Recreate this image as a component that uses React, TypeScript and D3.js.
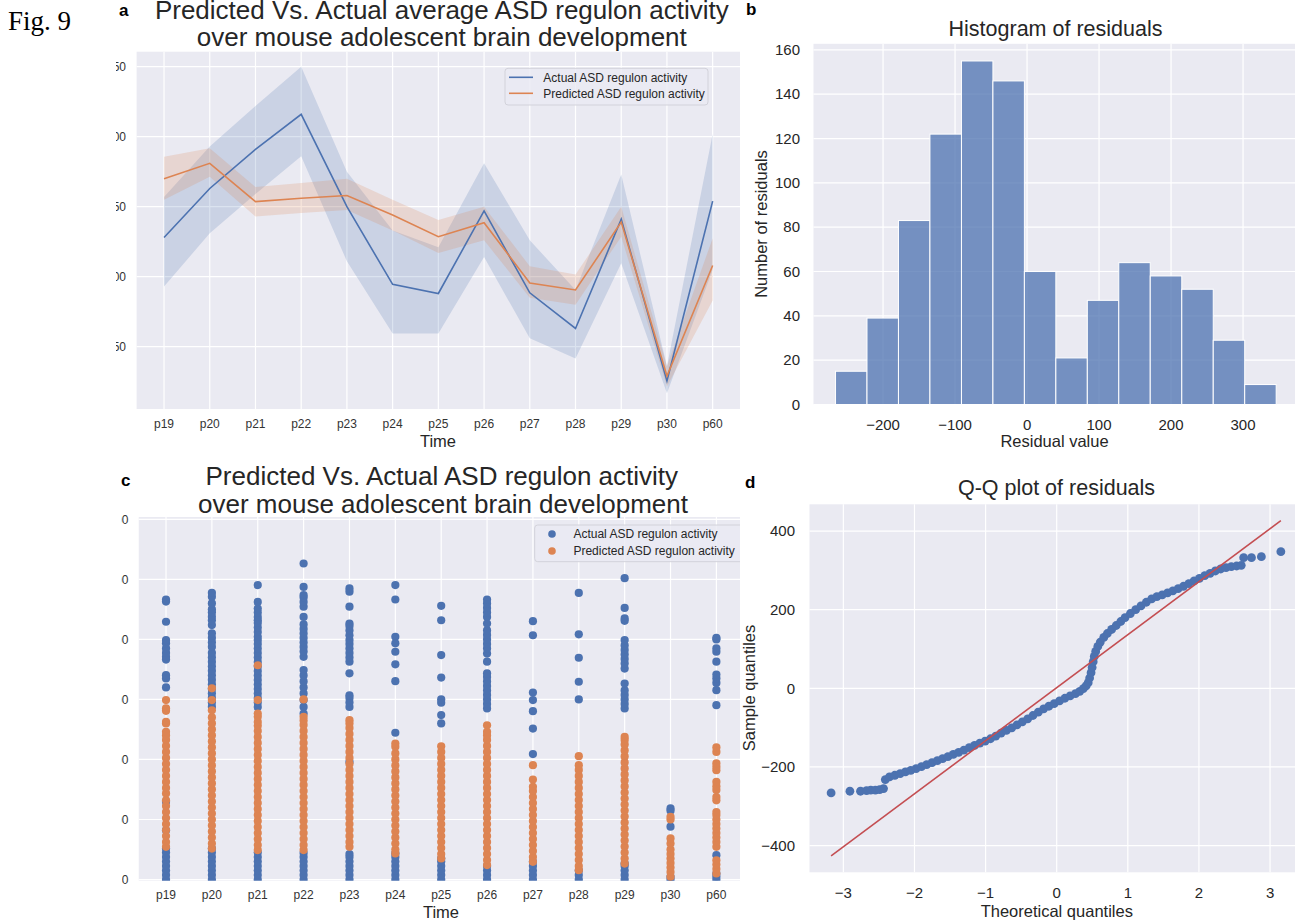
import React from 'react';
import * as d3 from 'd3';

// ---------- shared categories ----------
const timepoints = ['p19', 'p20', 'p21', 'p22', 'p23', 'p24', 'p25', 'p26', 'p27', 'p28', 'p29', 'p30', 'p60'];

// ---------- panel a: average regulon activity with 95% CI ----------
const actualMean = [228, 263, 291, 316, 250, 194.5, 188, 247, 188.5, 163, 241, 125.5, 254];
const actualLow = [193, 231, 259, 286, 211, 159.5, 159.5, 214, 156, 141.5, 209.6, 116.7, 205];
const actualHigh = [257, 293, 322, 350, 275, 233, 221, 281, 226, 190.5, 273, 136, 302];
const predictedMean = [270, 281, 253.6, 256, 258, 244, 228.6, 238.6, 195.5, 190.5, 239, 129, 208];
const predictedLow = [255, 271.4, 243, 245.5, 247.6, 233, 217, 226, 185, 180, 228.6, 121.6, 183];
const predictedHigh = [285.7, 291.7, 264, 267, 270, 255, 240.5, 250, 207.5, 201.5, 250, 136, 227.4];
const activityTicksA = [150, 200, 250, 300, 350];

// ---------- panel b: histogram of residuals ----------
const residualBinEdges = [-266, -222.3, -178.6, -134.9, -91.1, -47.4, -3.7, 40, 83.7, 127.4, 171.1, 214.9, 258.6, 302.3, 346];
const residualCounts = [15, 39, 83, 122, 155, 146, 60, 21, 47, 64, 58, 52, 29, 9];
const residualTicks = [-200, -100, 0, 100, 200, 300];
const countTicks = [0, 20, 40, 60, 80, 100, 120, 140, 160];

// ---------- panel c: per-cell activity by timepoint ----------
const actualByDay: number[][] = [
  [0, 15, 30, 45, 60, 75, 90, 103, 164, 259, 640, 670, 681, 733, 742, 755, 770, 787, 798, 859, 926, 933],
  [0, 15, 30, 45, 60, 75, 90, 103, 575, 590, 605, 620, 635, 650, 665, 680, 695, 710, 725, 740, 755, 775, 790, 805, 820, 848, 864, 876, 890, 900, 920, 942, 955],
  [0, 15, 30, 45, 60, 75, 90, 575, 590, 605, 620, 635, 650, 665, 680, 695, 710, 725, 740, 755, 770, 785, 798, 809, 825, 840, 855, 864, 875, 890, 903, 925, 981],
  [0, 15, 30, 45, 60, 75, 88, 553, 575, 598, 620, 640, 660, 680, 698, 742, 760, 775, 790, 805, 820, 835, 850, 875, 909, 925, 940, 948, 975, 1053],
  [0, 15, 30, 45, 60, 75, 85, 392, 575, 590, 605, 614, 687, 726, 740, 755, 770, 785, 798, 814, 830, 845, 853, 909, 959, 970],
  [0, 15, 30, 45, 60, 75, 87, 489, 661, 717, 759, 787, 809, 933, 981],
  [0, 15, 30, 45, 60, 70, 520, 548, 589, 600, 673, 748, 864, 912],
  [0, 15, 30, 45, 570, 585, 600, 615, 630, 645, 660, 675, 687, 726, 753, 770, 785, 800, 815, 830, 853, 875, 890, 905, 920, 933],
  [0, 15, 30, 45, 59, 418, 503, 561, 598, 623, 814, 861],
  [0, 15, 30, 600, 659, 739, 817, 955],
  [0, 15, 30, 45, 53, 570, 585, 600, 615, 630, 653, 703, 720, 735, 750, 765, 780, 798, 862, 870, 905, 1004],
  [0, 9, 176, 229, 237],
  [0, 10, 20, 81, 581, 631, 655, 670, 683, 726, 759, 770, 800, 805],
];
const predictedByDay: number[][] = [
  [109, 125, 145, 165, 185, 205, 225, 245, 264, 287, 305, 325, 345, 365, 385, 405, 425, 445, 465, 480, 492, 520, 525, 562, 570, 598],
  [103, 120, 140, 160, 180, 200, 220, 240, 260, 280, 300, 320, 340, 360, 380, 400, 420, 440, 460, 480, 500, 520, 540, 564, 598, 637],
  [98, 115, 135, 155, 175, 195, 215, 235, 255, 275, 295, 315, 335, 355, 375, 395, 415, 435, 455, 475, 495, 512, 525, 542, 553, 598, 714],
  [98, 115, 135, 155, 175, 195, 215, 235, 255, 275, 295, 315, 335, 355, 375, 395, 415, 435, 455, 475, 495, 515, 530, 542, 600],
  [109, 125, 145, 165, 185, 205, 225, 245, 265, 285, 305, 325, 345, 365, 385, 405, 425, 445, 465, 485, 505, 520, 531],
  [87, 100, 120, 140, 160, 180, 200, 220, 240, 260, 280, 300, 320, 340, 360, 380, 400, 420, 442, 453],
  [70, 85, 105, 125, 145, 165, 185, 205, 225, 245, 265, 285, 305, 325, 345, 365, 385, 405, 425, 444],
  [48, 65, 85, 105, 125, 145, 165, 185, 205, 225, 245, 265, 285, 305, 325, 345, 365, 385, 405, 425, 445, 465, 480, 492, 514],
  [59, 75, 95, 115, 135, 155, 175, 195, 215, 235, 255, 275, 295, 309, 333, 381],
  [31, 45, 65, 85, 105, 125, 145, 165, 185, 205, 225, 245, 265, 285, 305, 325, 345, 365, 381, 411],
  [53, 70, 90, 110, 130, 150, 170, 190, 210, 230, 250, 270, 290, 310, 330, 350, 370, 390, 410, 430, 450, 465, 475],
  [9, 25, 40, 55, 70, 85, 100, 120, 137, 200, 209],
  [20, 35, 50, 64, 109, 125, 140, 155, 170, 185, 200, 215, 225, 264, 275, 298, 310, 325, 364, 375, 387, 425, 440],
];
const activityTicksC = [0, 200, 400, 600, 800, 1000, 1200];

// ---------- panel d: Q-Q plot of residuals ----------
const qqTheoretical = [
  -3.172, -2.908, -2.759, -2.674, -2.615, -2.55, -2.49, -2.435, -2.41, -2.351, -2.276, -2.201, -2.127, -2.052,
  -1.977, -1.902, -1.828, -1.753, -1.678, -1.604, -1.529, -1.454, -1.379, -1.305, -1.23, -1.155, -1.081, -1.006,
  -0.931, -0.857, -0.782, -0.707, -0.632, -0.558, -0.483, -0.408, -0.334, -0.259, -0.184, -0.11, -0.035, 0.04,
  0.115, 0.189, 0.264, 0.324, 0.374, 0.413, 0.443, 0.463, 0.483, 0.498, 0.513, 0.528, 0.548, 0.578, 0.613, 0.662,
  0.712, 0.772, 0.837, 0.901, 0.961, 1.036, 1.111, 1.185, 1.26, 1.335, 1.409, 1.484, 1.559, 1.633, 1.708, 1.783,
  1.858, 1.932, 2.007, 2.082, 2.157, 2.231, 2.306, 2.381, 2.455, 2.53, 2.595, 2.629, 2.739, 2.878, 3.152,
];
const qqSample = [
  -266, -261.8, -261.8, -260.1, -259.2, -259.2, -257.5, -255, -232.2, -225.4, -221.2, -217, -212.8, -208.6,
  -204.3, -199.3, -194.2, -189.1, -184.1, -179, -173.9, -168, -162.9, -157, -151.1, -145.2, -139.3, -134.2,
  -128.3, -121.6, -114, -107.2, -100.5, -92.9, -85.3, -77.7, -69.2, -60.8, -52.3, -45.6, -38.8, -32.1,
  -25.3, -19.4, -13.5, -7.6, -0.8, 5.9, 14.4, 26.2, 39.7, 53.2, 67.6, 81.1, 93.8, 106.5, 117.5, 129.3,
  139.4, 149.6, 159.7, 169.9, 180, 190.2, 200.3, 209.6, 218.9, 227.4, 233.3, 237.5, 242.6, 247.7, 253.6, 259.5,
  266.3, 273, 279.8, 286.6, 292.5, 298.4, 303.5, 306.8, 309.4, 311.1, 312.8, 332.3, 332.3, 334.9, 347.5,
];
const qqLineX = [-3.172, 3.152];
const qqLineY = [-426.4, 426.4];
const theoreticalTicks = [-3, -2, -1, 0, 1, 2, 3];
const sampleTicks = [-400, -200, 0, 200, 400];

// ---------- styling ----------
const FONT = "'Liberation Sans', Arial, Helvetica, sans-serif";
const BG = '#eaeaf2';
const BLUE = '#4c72b0';
const ORANGE = '#dd8452';
const RED = '#c44e52';
const TEXT = '#262626';
const fmt = d3.format('d');

const idx = timepoints.map((_, i) => i);

function PanelA() {
  const x = d3.scalePoint<string>().domain(timepoints).range([136.6, 740.1]).padding(0.6);
  const y = d3.scaleLinear().domain([105.5, 360.7]).range([409, 51.7]);
  const [x0, x1] = x.range();
  const [yb, yt] = y.range();
  const band = (lo: number[], hi: number[]) =>
    d3.area<number>().x((i) => x(timepoints[i])!).y0((i) => y(lo[i])).y1((i) => y(hi[i]))(idx)!;
  const line = (v: number[]) => d3.line<number>().x((i) => x(timepoints[i])!).y((i) => y(v[i]))(idx)!;
  return (
    <g>
      <defs>
        <clipPath id="clipA"><rect x={0} y={0} width={740} height={460} /></clipPath>
        <clipPath id="clipATicks"><rect x={116} y={40} width={30} height={380} /></clipPath>
      </defs>
      <g clipPath="url(#clipA)">
        <rect x={x0} y={yt} width={x1 - x0} height={yb - yt} fill={BG} />
        {activityTicksA.map((t) => (
          <line key={t} x1={x0} x2={x1} y1={y(t)} y2={y(t)} stroke="#fff" strokeWidth={1.2} />
        ))}
        {timepoints.map((t) => (
          <line key={t} x1={x(t)} x2={x(t)} y1={yt} y2={yb} stroke="#fff" strokeWidth={1.2} />
        ))}
        <path d={band(actualLow, actualHigh)} fill={BLUE} fillOpacity={0.2} />
        <path d={band(predictedLow, predictedHigh)} fill={ORANGE} fillOpacity={0.2} />
        <path d={line(actualMean)} fill="none" stroke={BLUE} strokeWidth={1.6} />
        <path d={line(predictedMean)} fill="none" stroke={ORANGE} strokeWidth={1.6} />
        {/* legend */}
        <rect x={505} y={68.3} width={203} height={36.7} rx={3} fill={BG} fillOpacity={0.8} stroke="#d2d2da" strokeWidth={1} />
        <line x1={509} x2={533} y1={77.3} y2={77.3} stroke={BLUE} strokeWidth={1.6} />
        <line x1={509} x2={533} y1={93.3} y2={93.3} stroke={ORANGE} strokeWidth={1.6} />
        <text x={543.3} y={81.5} fontSize={12} fill={TEXT} fontFamily={FONT}>Actual ASD regulon activity</text>
        <text x={543.3} y={97.5} fontSize={12} fill={TEXT} fontFamily={FONT}>Predicted ASD regulon activity</text>
      </g>
      <g clipPath="url(#clipATicks)">
        {activityTicksA.map((t) => (
          <text key={t} x={126} y={y(t) + 4.2} fontSize={12} textAnchor="end" fill="#333" fontFamily={FONT}>{fmt(t)}</text>
        ))}
      </g>
      {timepoints.map((t) => (
        <text key={t} x={x(t)} y={427.5} fontSize={12} textAnchor="middle" fill="#333" fontFamily={FONT}>{t}</text>
      ))}
      <text x={438} y={446.5} fontSize={16.5} textAnchor="middle" fill={TEXT} fontFamily={FONT}>Time</text>
      <text x={441.8} y={18.5} fontSize={26} textAnchor="middle" fill={TEXT} fontFamily={FONT}>Predicted Vs. Actual average ASD regulon activity</text>
      <text x={441.8} y={45.5} fontSize={26} textAnchor="middle" fill={TEXT} fontFamily={FONT}>over mouse adolescent brain development</text>
      <text x={119} y={15.5} fontSize={17} fontWeight="bold" fill="#000" fontFamily={FONT}>a</text>
    </g>
  );
}

function PanelB() {
  const x = d3.scaleLinear().domain([-296.6, 376.6]).range([813.5, 1298.2]);
  const y = d3.scaleLinear().domain([0, 162.75]).range([404.5, 43.8]);
  const [x0, x1] = x.range();
  const [yb, yt] = y.range();
  return (
    <g>
      <rect x={x0} y={yt} width={x1 - x0} height={yb - yt} fill={BG} />
      {countTicks.map((t) => (
        <line key={t} x1={x0} x2={x1} y1={y(t)} y2={y(t)} stroke="#fff" strokeWidth={1.2} />
      ))}
      {residualTicks.map((t) => (
        <line key={t} x1={x(t)} x2={x(t)} y1={yt} y2={yb} stroke="#fff" strokeWidth={1.2} />
      ))}
      {residualCounts.map((c, i) => (
        <rect
          key={i}
          x={x(residualBinEdges[i])}
          y={y(c)}
          width={x(residualBinEdges[i + 1]) - x(residualBinEdges[i])}
          height={y(0) - y(c)}
          fill={BLUE}
          fillOpacity={0.75}
          stroke="#fff"
          strokeWidth={1}
        />
      ))}
      {countTicks.map((t) => (
        <text key={t} x={800} y={y(t) + 5.2} fontSize={15} textAnchor="end" fill={TEXT} fontFamily={FONT}>{fmt(t)}</text>
      ))}
      {residualTicks.map((t) => (
        <text key={t} x={x(t)} y={430} fontSize={15} textAnchor="middle" fill={TEXT} fontFamily={FONT}>{fmt(t)}</text>
      ))}
      <text x={1054.5} y={447} fontSize={16.5} textAnchor="middle" fill={TEXT} fontFamily={FONT}>Residual value</text>
      <text transform="translate(767,224) rotate(-90)" fontSize={16.5} textAnchor="middle" fill={TEXT} fontFamily={FONT}>Number of residuals</text>
      <text x={1055.5} y={35.5} fontSize={21.5} textAnchor="middle" fill={TEXT} fontFamily={FONT}>Histogram of residuals</text>
      <text x={746} y={14.5} fontSize={17} fontWeight="bold" fill="#000" fontFamily={FONT}>b</text>
    </g>
  );
}

function PanelC() {
  const x = d3.scalePoint<string>().domain(timepoints).range([138.5, 743.9]).padding(0.6);
  const y = d3.scaleLinear().domain([-4, 1208]).range([880.7, 517]);
  const [x0, x1] = x.range();
  const [yb, yt] = y.range();
  return (
    <g>
      <defs>
        <clipPath id="clipC"><rect x={x0} y={yt} width={740 - x0} height={yb - yt} /></clipPath>
        <clipPath id="clipCTicks"><rect x={121.5} y={500} width={30} height={400} /></clipPath>
      </defs>
      <g clipPath="url(#clipC)">
        <rect x={x0} y={yt} width={x1 - x0} height={yb - yt} fill={BG} />
        {activityTicksC.map((t) => (
          <line key={t} x1={x0} x2={x1} y1={y(t)} y2={y(t)} stroke="#fff" strokeWidth={1.2} />
        ))}
        {timepoints.map((t) => (
          <line key={t} x1={x(t)} x2={x(t)} y1={yt} y2={yb} stroke="#fff" strokeWidth={1.2} />
        ))}
        {actualByDay.map((vals, i) =>
          vals.map((v, j) => <circle key={`a${i}-${j}`} cx={x(timepoints[i])} cy={y(v)} r={4.1} fill={BLUE} />)
        )}
        {predictedByDay.map((vals, i) =>
          vals.map((v, j) => <circle key={`p${i}-${j}`} cx={x(timepoints[i])} cy={y(v)} r={4.1} fill={ORANGE} />)
        )}
        {/* legend */}
        <rect x={534.7} y={525} width={210} height={36.7} rx={3} fill={BG} fillOpacity={0.8} stroke="#d2d2da" strokeWidth={1} />
        <circle cx={552} cy={534} r={3.8} fill={BLUE} />
        <circle cx={552} cy={551} r={3.8} fill={ORANGE} />
        <text x={573.4} y={538.2} fontSize={12} fill={TEXT} fontFamily={FONT}>Actual ASD regulon activity</text>
        <text x={573.4} y={555.2} fontSize={12} fill={TEXT} fontFamily={FONT}>Predicted ASD regulon activity</text>
      </g>
      <g clipPath="url(#clipCTicks)">
        {activityTicksC.map((t) => (
          <text key={t} x={128.4} y={y(t) + 4.2} fontSize={12} textAnchor="end" fill="#333" fontFamily={FONT}>{fmt(t)}</text>
        ))}
      </g>
      {timepoints.map((t) => (
        <text key={t} x={x(t)} y={899} fontSize={12} textAnchor="middle" fill="#333" fontFamily={FONT}>{t}</text>
      ))}
      <text x={441} y={918} fontSize={16.5} textAnchor="middle" fill={TEXT} fontFamily={FONT}>Time</text>
      <text x={441.8} y={485} fontSize={26} textAnchor="middle" fill={TEXT} fontFamily={FONT}>Predicted Vs. Actual ASD regulon activity</text>
      <text x={443} y={512.7} fontSize={26} textAnchor="middle" fill={TEXT} fontFamily={FONT}>over mouse adolescent brain development</text>
      <text x={121} y={486} fontSize={17} fontWeight="bold" fill="#000" fontFamily={FONT}>c</text>
    </g>
  );
}

function PanelD() {
  const x = d3.scaleLinear().domain([-3.476, 3.476]).range([809.5, 1303.9]);
  const y = d3.scaleLinear().domain([-468, 468]).range([872.3, 504.3]);
  const [x0, x1] = x.range();
  const [yb, yt] = y.range();
  return (
    <g>
      <rect x={x0} y={yt} width={x1 - x0} height={yb - yt} fill={BG} />
      {sampleTicks.map((t) => (
        <line key={t} x1={x0} x2={x1} y1={y(t)} y2={y(t)} stroke="#fff" strokeWidth={1.2} />
      ))}
      {theoreticalTicks.map((t) => (
        <line key={t} x1={x(t)} x2={x(t)} y1={yt} y2={yb} stroke="#fff" strokeWidth={1.2} />
      ))}
      {qqTheoretical.map((q, i) => (
        <circle key={i} cx={x(q)} cy={y(qqSample[i])} r={4.4} fill={BLUE} />
      ))}
      <line x1={x(qqLineX[0])} y1={y(qqLineY[0])} x2={x(qqLineX[1])} y2={y(qqLineY[1])} stroke={RED} strokeWidth={1.6} />
      {sampleTicks.map((t) => (
        <text key={t} x={795} y={y(t) + 5.2} fontSize={15} textAnchor="end" fill={TEXT} fontFamily={FONT}>{fmt(t)}</text>
      ))}
      {theoreticalTicks.map((t) => (
        <text key={t} x={x(t)} y={898} fontSize={15} textAnchor="middle" fill={TEXT} fontFamily={FONT}>{fmt(t)}</text>
      ))}
      <text x={1056.8} y={917} fontSize={16.5} textAnchor="middle" fill={TEXT} fontFamily={FONT}>Theoretical quantiles</text>
      <text transform="translate(754.5,688) rotate(-90)" fontSize={16.5} textAnchor="middle" fill={TEXT} fontFamily={FONT}>Sample quantiles</text>
      <text x={1056.5} y={495} fontSize={21.5} textAnchor="middle" fill={TEXT} fontFamily={FONT}>Q-Q plot of residuals</text>
      <text x={745} y={488} fontSize={17} fontWeight="bold" fill="#000" fontFamily={FONT}>d</text>
    </g>
  );
}

export default function App() {
  return (
    <svg
      width={1295}
      height={922}
      viewBox="0 0 1295 922"
      style={{ position: 'absolute', left: 0, top: 0, background: '#fff' }}
    >
      <rect x={0} y={0} width={1295} height={922} fill="#fff" />
      <text x={8} y={30} fontSize={27} fill="#000" fontFamily="'Liberation Serif', 'Times New Roman', serif">Fig. 9</text>
      <PanelA />
      <PanelB />
      <PanelC />
      <PanelD />
    </svg>
  );
}
